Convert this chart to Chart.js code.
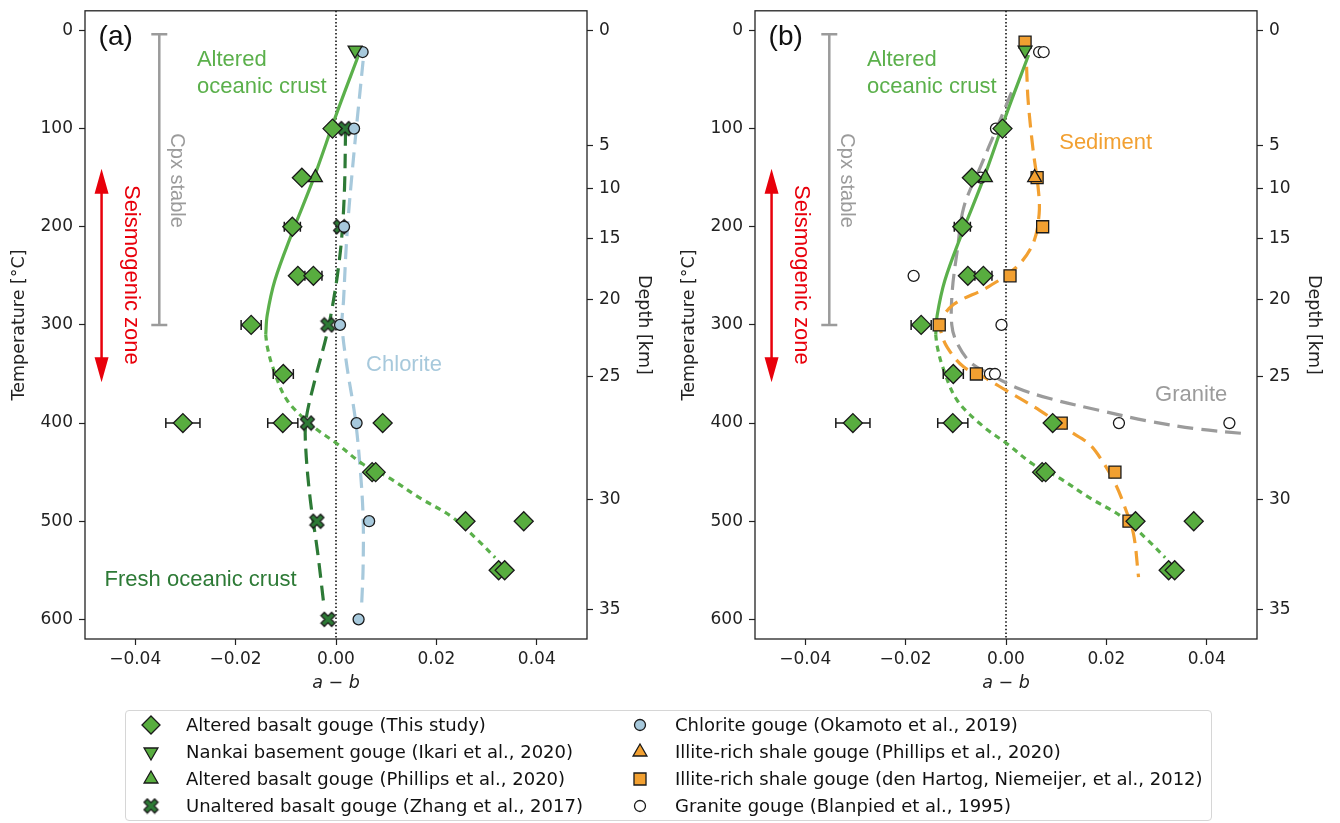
<!DOCTYPE html>
<html>
<head>
<meta charset="utf-8">
<script src="https://cdn.jsdelivr.net/npm/chart.js@4.4.1/dist/chart.umd.min.js"></script>
<style>
	body { margin: 0; background: #fff; width: 1340px; height: 823px; overflow: hidden; position: relative; }
	canvas.panel { position: absolute; top: 0; }
	#chart-a { left: 0; }
	#chart-b { left: 670px; }
	#legend { position: absolute; left: 125px; top: 710px; width: 1087px; height: 111px; border: 1px solid #d6d6d6; border-radius: 4px; box-sizing: border-box; }
	#legend canvas { position: absolute; left: 0; top: 0; }
	#legend span { position: absolute; font: 18px 'DejaVu Sans', sans-serif; color: #111; white-space: nowrap; line-height: 22px; }
</style>
</head>
<body>
<canvas id="chart-a" class="panel" width="670" height="700"></canvas>
<canvas id="chart-b" class="panel" width="670" height="700"></canvas>
<div id="legend"><canvas id="legend-marks" width="1087" height="111"></canvas></div>
<script>
// axis ticks
const tempTicks = [0, 100, 200, 300, 400, 500, 600];
const abTicks = [-0.04, -0.02, 0, 0.02, 0.04];
const depthKm = [0, 5, 10, 15, 20, 25, 30, 35];
const depthTemp = [0, 117, 161, 212, 274, 353, 478, 590];

// altered basalt gouge (this study)
const basaltT = [100, 150, 200, 250, 250, 300, 350, 400, 400, 400, 450, 450, 500, 500, 550, 550];
const basaltAB = [-0.0007, -0.0068, -0.0087, -0.0076, -0.0045, -0.0169, -0.0105, -0.0305, -0.0106, 0.0093, 0.0072, 0.0079, 0.0258, 0.0374, 0.0324, 0.0336];
const basaltErr = [0, 0, 0.0016, 0, 0.0017, 0.002, 0.002, 0.0034, 0.003, 0, 0, 0, 0, 0, 0, 0];

const nankaiT = [20];
const nankaiAB = [0.0038];
const phillipsBasaltT = [150];
const phillipsBasaltAB = [-0.0041];

const zhangT = [100, 200, 300, 400, 500, 600];
const zhangAB = [0.0018, 0.0009, -0.0016, -0.0057, -0.0038, -0.0016];

const chloriteT = [22, 100, 200, 300, 400, 500, 600];
const chloriteAB = [0.0053, 0.0036, 0.0016, 0.0008, 0.0041, 0.0066, 0.0045];

const illitePhillipsT = [150];
const illitePhillipsAB = [0.0057];

const hartogT = [12, 150, 200, 250, 300, 350, 400, 450, 500];
const hartogAB = [0.0038, 0.0062, 0.0073, 0.0008, -0.0133, -0.0059, 0.011, 0.0217, 0.0245];
const hartogErr = [0, 0, 0, 0, 0.0007, 0, 0, 0, 0];

const graniteT = [22, 22, 100, 150, 250, 300, 350, 350, 400, 400];
const graniteAB = [0.0066, 0.0075, -0.002, -0.005, -0.0184, -0.0009, -0.0032, -0.0022, 0.0225, 0.0445];

// trend curves
const alteredT = [25, 85, 150, 207, 255, 290, 310];
const alteredAB = [0.0045, 0.0001, -0.0044, -0.0088, -0.0122, -0.0137, -0.014];
const alteredHotT = [310, 322, 343, 377, 404, 421, 442, 454, 476, 496, 520, 537];
const alteredHotAB = [-0.014, -0.0137, -0.0126, -0.0097, -0.0044, 0.0002, 0.0054, 0.01, 0.0166, 0.0232, 0.0284, 0.0317];
const freshT = [102, 160, 207, 241, 275, 309, 360, 398, 428, 479, 530, 586];
const freshAB = [0.0019, 0.0017, 0.0012, 0.0005, -0.0005, -0.0018, -0.0044, -0.006, -0.006, -0.0051, -0.0037, -0.0024];
const chloriteLineT = [31, 129, 207, 275, 300, 343, 394, 445, 496, 547, 586];
const chloriteLineAB = [0.0054, 0.0035, 0.0022, 0.0015, 0.0012, 0.0022, 0.0038, 0.0048, 0.0054, 0.0054, 0.0051];
const sedimentT = [37, 71, 122, 160, 187, 217, 241, 262, 279, 296, 306, 323, 343, 353, 367, 387, 408, 421, 438, 462, 486, 513, 557];
const sedimentAB = [0.0041, 0.0044, 0.0054, 0.0064, 0.0066, 0.0054, 0.0021, -0.0038, -0.0104, -0.013, -0.013, -0.0117, -0.0084, -0.0045, 0.0001, 0.0067, 0.0126, 0.0165, 0.0191, 0.0218, 0.0237, 0.0254, 0.0264];
const graniteLineT = [63, 99, 139, 180, 224, 265, 300, 319, 338, 350, 364, 375, 387, 398, 406, 411];
const graniteLineAB = [0.0011, -0.0018, -0.0051, -0.0084, -0.0097, -0.0107, -0.0108, -0.0097, -0.0071, -0.0032, 0.0021, 0.0087, 0.0185, 0.0284, 0.0382, 0.048];

const zeroLineT = [-20, 620];
const zeroLineAB = [0, 0];

const legendNames = [
	'Altered basalt gouge (This study)',
	'Nankai basement gouge (Ikari et al., 2020)',
	'Altered basalt gouge (Phillips et al., 2020)',
	'Unaltered basalt gouge (Zhang et al., 2017)',
	'Chlorite gouge (Okamoto et al., 2019)',
	'Illite-rich shale gouge (Phillips et al., 2020)',
	'Illite-rich shale gouge (den Hartog, Niemeijer, et al., 2012)',
	'Granite gouge (Blanpied et al., 1995)',
];

const GREEN = '#58ad3f';
const LINE_GREEN = '#5bb04b';
const DARK_GREEN = '#2d7a36';
const LIGHT_BLUE = '#a7c9dc';
const ORANGE = '#f2a031';
const GRAY = '#9b9b9b';
const RED = '#e8000b';
const EDGE = '#1a1a1a';
const ANNOT_FONT = "'Liberation Sans', Arial, sans-serif";
const TICK_FONT = "'DejaVu Sans', sans-serif";

function zip(ab, t) {
	return ab.map((v, i) => ({ x: v, y: t[i] }));
}

function xMarker(size, fill) {
	const c = document.createElement('canvas');
	c.width = c.height = size + 4;
	const g = c.getContext('2d');
	g.translate(c.width / 2, c.height / 2);
	g.rotate(Math.PI / 4);
	const a = size / 2 + 1, w = size * 0.18;
	g.beginPath();
	g.moveTo(-w, -a); g.lineTo(w, -a); g.lineTo(w, -w); g.lineTo(a, -w);
	g.lineTo(a, w); g.lineTo(w, w); g.lineTo(w, a); g.lineTo(-w, a);
	g.lineTo(-w, w); g.lineTo(-a, w); g.lineTo(-a, -w); g.lineTo(-w, -w);
	g.closePath();
	g.fillStyle = fill;
	g.fill();
	g.lineWidth = 1.3;
	g.strokeStyle = EDGE;
	g.stroke();
	return c;
}
const crossImg = xMarker(13, DARK_GREEN);

function markers(label, ab, t, style, fill, radius, order, extra) {
	return Object.assign({
		label: label,
		data: zip(ab, t),
		pointStyle: style,
		pointRadius: radius,
		pointHoverRadius: radius,
		backgroundColor: fill,
		borderColor: EDGE,
		borderWidth: 1.3,
		order: order,
	}, extra || {});
}

function curve(ab, t, color, dash, order) {
	return {
		data: zip(ab, t),
		showLine: true,
		pointRadius: 0,
		borderColor: color,
		borderWidth: 3.2,
		borderDash: dash,
		tension: 0.35,
		fill: false,
		order: order,
	};
}

// error bars, drawn under each marker set
const errorBars = {
	id: 'errorBars',
	beforeDatasetDraw(chart, args) {
		const ds = chart.data.datasets[args.index];
		if (!ds.errX) return;
		const { ctx, scales: { x, y } } = chart;
		ctx.save();
		ctx.strokeStyle = EDGE;
		ctx.lineWidth = 1.5;
		ds.data.forEach((p, i) => {
			const e = ds.errX[i];
			if (!e) return;
			const py = y.getPixelForValue(p.y);
			const x0 = x.getPixelForValue(p.x - e);
			const x1 = x.getPixelForValue(p.x + e);
			ctx.beginPath();
			ctx.moveTo(x0, py); ctx.lineTo(x1, py);
			ctx.moveTo(x0, py - 5); ctx.lineTo(x0, py + 5);
			ctx.moveTo(x1, py - 5); ctx.lineTo(x1, py + 5);
			ctx.stroke();
		});
		ctx.restore();
	}
};

// brackets, arrows, labels and frame
const notes = {
	id: 'notes',
	beforeDatasetsDraw(chart) {
		const { ctx, scales: { x, y } } = chart;
		ctx.save();
		// Cpx stable bracket
		const bx = x.getPixelForValue(-0.0352);
		const by0 = y.getPixelForValue(4), by1 = y.getPixelForValue(300);
		ctx.strokeStyle = GRAY;
		ctx.lineWidth = 2.5;
		ctx.beginPath();
		ctx.moveTo(bx, by0); ctx.lineTo(bx, by1);
		ctx.moveTo(bx - 8, by0); ctx.lineTo(bx + 8, by0);
		ctx.moveTo(bx - 8, by1); ctx.lineTo(bx + 8, by1);
		ctx.stroke();
		// seismogenic zone arrow
		const ax = x.getPixelForValue(-0.0467);
		const ay0 = y.getPixelForValue(141), ay1 = y.getPixelForValue(358.5);
		ctx.strokeStyle = RED;
		ctx.fillStyle = RED;
		ctx.lineWidth = 2.5;
		ctx.beginPath();
		ctx.moveTo(ax, ay0 + 20); ctx.lineTo(ax, ay1 - 20);
		ctx.stroke();
		ctx.beginPath();
		ctx.moveTo(ax, ay0); ctx.lineTo(ax + 7, ay0 + 25); ctx.lineTo(ax - 7, ay0 + 25); ctx.closePath();
		ctx.moveTo(ax, ay1); ctx.lineTo(ax + 7, ay1 - 25); ctx.lineTo(ax - 7, ay1 - 25); ctx.closePath();
		ctx.fill();
		ctx.restore();
	},
	afterDatasetsDraw(chart, args, opts) {
		const { ctx, scales: { x, y }, chartArea: a } = chart;
		ctx.save();
		ctx.textBaseline = 'alphabetic';
		opts.items.forEach(it => {
			ctx.font = it.size + 'px ' + ANNOT_FONT;
			ctx.fillStyle = it.color;
			const px = x.getPixelForValue(it.x), py = y.getPixelForValue(it.y);
			if (it.rotate) {
				ctx.save();
				ctx.translate(px, py);
				ctx.rotate(Math.PI / 2);
				ctx.textAlign = 'center';
				ctx.textBaseline = 'middle';
				ctx.fillText(it.text, 0, 0);
				ctx.restore();
			} else {
				ctx.textAlign = 'left';
				ctx.fillText(it.text, px, py);
			}
		});
		ctx.strokeStyle = '#222';
		ctx.lineWidth = 1.3;
		ctx.strokeRect(a.left, a.top, a.right - a.left, a.bottom - a.top);
		ctx.restore();
	}
};

const commonNotes = [
	{ text: 'Altered', x: -0.0277, y: 36.5, size: 22, color: LINE_GREEN },
	{ text: 'oceanic crust', x: -0.0277, y: 64, size: 22, color: LINE_GREEN },
	{ text: 'Cpx stable', x: -0.0317, y: 153, size: 20, color: GRAY, rotate: true },
	{ text: 'Seismogenic zone', x: -0.0409, y: 249, size: 22, color: RED, rotate: true },
];
const notesA = commonNotes.concat([
	{ text: '(a)', x: -0.0473, y: 15, size: 28, color: '#111' },
	{ text: 'Chlorite', x: 0.006, y: 346.5, size: 22, color: LIGHT_BLUE },
	{ text: 'Fresh oceanic crust', x: -0.0461, y: 565.5, size: 22, color: DARK_GREEN },
]);
const notesB = commonNotes.concat([
	{ text: '(b)', x: -0.0473, y: 15, size: 28, color: '#111' },
	{ text: 'Sediment', x: 0.0106, y: 121, size: 22, color: ORANGE },
	{ text: 'Granite', x: 0.0297, y: 378, size: 22, color: GRAY },
]);

function axisGrid() {
	return { drawOnChartArea: false, drawTicks: true, tickLength: 6, tickColor: '#222', tickWidth: 1.2 };
}
function noPadV(s, w) { s.width = w; s.paddingTop = 0; s.paddingBottom = 0; }
function noPadH(s, h) { s.height = h; s.paddingLeft = 0; s.paddingRight = 0; }

function drawPanel(id, datasets, items) {
	const ctx = document.getElementById(id).getContext('2d');
	return new Chart(ctx, {
		type: 'scatter',
		data: { datasets: datasets },
		options: {
			responsive: false,
			animation: false,
			devicePixelRatio: 1,
			layout: { padding: { top: 10 } },
			plugins: { legend: { display: false }, tooltip: { enabled: false }, notes: { items: items } },
			scales: {
				x: {
					type: 'linear', min: -0.05, max: 0.05,
					afterBuildTicks: s => { s.ticks = abTicks.map(v => ({ value: v })); },
					afterFit: s => noPadH(s, 61),
					ticks: {
						color: '#222', padding: 4, maxRotation: 0,
						font: { family: TICK_FONT, size: 17 },
						callback: v => (v < 0 ? '\u2212' : '') + Math.abs(v).toFixed(2),
					},
					grid: axisGrid(),
					border: { display: false },
					title: { display: true, text: 'a \u2212 b', color: '#222', padding: { bottom: 6 },
						font: { family: TICK_FONT, size: 17.5, style: 'italic' } },
				},
				y: {
					type: 'linear', position: 'left', reverse: true, min: -20, max: 620,
					afterBuildTicks: s => { s.ticks = tempTicks.map(v => ({ value: v })); },
					afterFit: s => noPadV(s, 85),
					ticks: { color: '#222', padding: 6, font: { family: TICK_FONT, size: 17 } },
					grid: axisGrid(),
					border: { display: false },
					title: { display: true, text: 'Temperature [\u00b0C]', color: '#222', padding: { top: 9 },
						font: { family: TICK_FONT, size: 17.5 } },
				},
				depth: {
					type: 'linear', position: 'right', reverse: true, min: -20, max: 620,
					afterBuildTicks: s => { s.ticks = depthTemp.map(v => ({ value: v })); },
					afterFit: s => noPadV(s, 83),
					ticks: { color: '#222', padding: 6, font: { family: TICK_FONT, size: 17 },
						callback: (v, i) => depthKm[i] },
					grid: axisGrid(),
					border: { display: false },
					title: { display: true, text: 'Depth [km]', color: '#222', padding: { top: 16 },
						font: { family: TICK_FONT, size: 17.5 } },
				},
			},
		},
		plugins: [errorBars, notes],
	});
}

const basaltSet = () => markers(legendNames[0], basaltAB, basaltT, 'rectRot', GREEN, 9.5, 1, { errX: basaltErr });
const nankaiSet = () => markers(legendNames[1], nankaiAB, nankaiT, 'triangle', GREEN, 8, 2, { rotation: 180 });
const phillipsSet = () => markers(legendNames[2], phillipsBasaltAB, phillipsBasaltT, 'triangle', GREEN, 8, 2);
const zeroSet = () => ({ data: zip(zeroLineAB, zeroLineT), showLine: true, pointRadius: 0, borderColor: '#000', borderWidth: 1.5, borderDash: [1.5, 2.2], order: 20 });

drawPanel('chart-a', [
	basaltSet(), nankaiSet(), phillipsSet(),
	markers(legendNames[3], zhangAB, zhangT, crossImg, DARK_GREEN, 7, 4),
	markers(legendNames[4], chloriteAB, chloriteT, 'circle', LIGHT_BLUE, 5.5, 3),
	curve(alteredAB, alteredT, LINE_GREEN, [], 12),
	curve(alteredHotAB, alteredHotT, LINE_GREEN, [6, 5], 12),
	curve(freshAB, freshT, DARK_GREEN, [15, 8], 13),
	curve(chloriteLineAB, chloriteLineT, LIGHT_BLUE, [15, 8], 14),
	zeroSet(),
], notesA);

drawPanel('chart-b', [
	basaltSet(), nankaiSet(), phillipsSet(),
	markers(legendNames[5], illitePhillipsAB, illitePhillipsT, 'triangle', ORANGE, 8, 3),
	markers(legendNames[6], hartogAB, hartogT, 'rect', ORANGE, 8.5, 4, { errX: hartogErr }),
	markers(legendNames[7], graniteAB, graniteT, 'circle', '#ffffff', 5.5, 5),
	curve(alteredAB, alteredT, LINE_GREEN, [], 12),
	curve(alteredHotAB, alteredHotT, LINE_GREEN, [6, 5], 12),
	curve(sedimentAB, sedimentT, ORANGE, [15, 8], 13),
	curve(graniteLineAB, graniteLineT, GRAY, [16, 8], 14),
	zeroSet(),
], notesB);

// legend, two columns of four
const legendStyles = [
	{ style: 'rectRot', fill: GREEN, r: 9 },
	{ style: 'triangleDown', fill: GREEN, r: 8 },
	{ style: 'triangle', fill: GREEN, r: 8 },
	{ style: 'cross', fill: DARK_GREEN, r: 7 },
	{ style: 'circle', fill: LIGHT_BLUE, r: 5.5 },
	{ style: 'triangle', fill: ORANGE, r: 8 },
	{ style: 'rect', fill: ORANGE, r: 8.5 },
	{ style: 'circle', fill: '#ffffff', r: 5.5 },
];
const legendEl = document.getElementById('legend');
const lg = document.getElementById('legend-marks').getContext('2d');
const rowY = [14, 41, 68, 95];
legendNames.forEach((name, i) => {
	const col = Math.floor(i / 4), row = i % 4;
	const mx = col ? 514 : 25, tx = col ? 549 : 60;
	const my = rowY[row];
	const st = legendStyles[i];
	lg.save();
	lg.fillStyle = st.fill;
	lg.strokeStyle = EDGE;
	lg.lineWidth = 1.3;
	lg.beginPath();
	if (st.style === 'circle') {
		lg.arc(mx, my, st.r, 0, Math.PI * 2);
	} else if (st.style === 'rectRot') {
		lg.moveTo(mx, my - st.r); lg.lineTo(mx + st.r, my); lg.lineTo(mx, my + st.r); lg.lineTo(mx - st.r, my);
	} else if (st.style === 'rect') {
		const h = st.r * Math.SQRT1_2;
		lg.rect(mx - h, my - h, 2 * h, 2 * h);
	} else if (st.style === 'triangle' || st.style === 'triangleDown') {
		const s = st.style === 'triangle' ? 1 : -1;
		lg.moveTo(mx, my - s * st.r);
		lg.lineTo(mx + st.r * 0.866, my + s * st.r / 2);
		lg.lineTo(mx - st.r * 0.866, my + s * st.r / 2);
	}
	if (st.style === 'cross') {
		lg.drawImage(crossImg, mx - crossImg.width / 2, my - crossImg.height / 2);
	} else {
		lg.closePath();
		lg.fill();
		lg.stroke();
	}
	lg.restore();
	const span = document.createElement('span');
	span.textContent = name;
	span.style.left = tx + 'px';
	span.style.top = (my - 11) + 'px';
	legendEl.appendChild(span);
});
</script>
</body>
</html>
